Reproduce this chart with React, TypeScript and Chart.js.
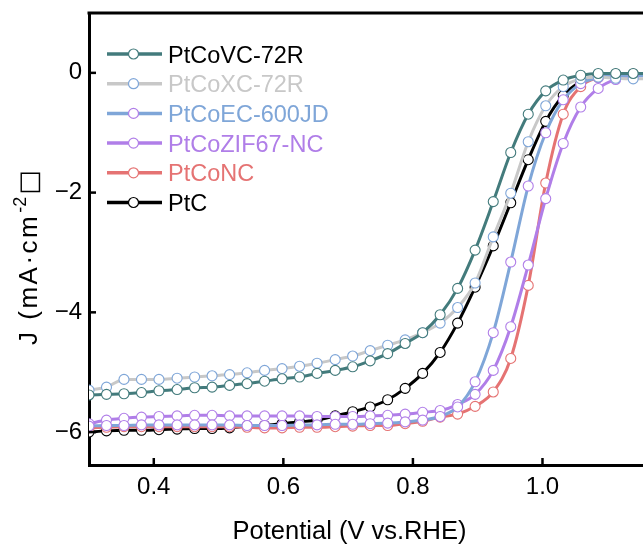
import React, { useEffect, useRef } from "react";
import { Chart, registerables } from "chart.js";

Chart.register(...registerables);

// Potential (V vs. RHE) of each sampled point
const potential = [
  0.300, 0.327, 0.354, 0.381, 0.408, 0.436, 0.463, 0.490, 0.517, 0.544, 0.571,
  0.598, 0.625, 0.652, 0.680, 0.707, 0.734, 0.761, 0.788, 0.815, 0.842, 0.869,
  0.896, 0.924, 0.951, 0.978, 1.005, 1.032, 1.059, 1.086, 1.113, 1.140, 1.168,
];

const seriesNames = ["PtCoVC-72R", "PtCoXC-72R", "PtCoEC-600JD", "PtCoZIF67-NC", "PtCoNC", "PtC"];

const ptCoVC72R = [
  -5.38, -5.37, -5.36, -5.34, -5.31, -5.29, -5.26, -5.25, -5.22, -5.19, -5.15,
  -5.11, -5.08, -5.02, -4.97, -4.91, -4.81, -4.69, -4.52, -4.34, -4.04, -3.60,
  -2.96, -2.15, -1.33, -0.69, -0.30, -0.12, -0.04, -0.01, -0.01, -0.01, -0.01,
];
const ptCoXC72R = [
  -5.30, -5.25, -5.12, -5.12, -5.12, -5.10, -5.08, -5.06, -5.04, -5.01, -4.97,
  -4.94, -4.90, -4.85, -4.79, -4.73, -4.64, -4.55, -4.46, -4.34, -4.18, -3.92,
  -3.51, -2.74, -2.01, -1.15, -0.55, -0.23, -0.10, -0.07, -0.09, -0.10, -0.10,
];
const ptCoEC600JD = [
  -5.90, -5.89, -5.89, -5.88, -5.88, -5.88, -5.88, -5.88, -5.88, -5.89, -5.89,
  -5.89, -5.88, -5.88, -5.87, -5.87, -5.86, -5.85, -5.83, -5.80, -5.74, -5.58,
  -5.16, -4.34, -3.16, -1.89, -1.00, -0.45, -0.18, -0.08, -0.05, -0.05, -0.05,
];
const ptCoZIF67NC = [
  -5.86, -5.80, -5.77, -5.75, -5.74, -5.73, -5.72, -5.72, -5.73, -5.73, -5.73,
  -5.73, -5.73, -5.74, -5.74, -5.74, -5.73, -5.72, -5.70, -5.67, -5.64, -5.54,
  -5.37, -4.97, -4.24, -3.21, -2.10, -1.18, -0.57, -0.26, -0.11, -0.05, -0.04,
];
const ptCoNC = [
  -5.93, -5.92, -5.91, -5.91, -5.91, -5.91, -5.91, -5.91, -5.91, -5.92, -5.93,
  -5.93, -5.92, -5.92, -5.91, -5.90, -5.89, -5.89, -5.86, -5.82, -5.75, -5.70,
  -5.57, -5.33, -4.77, -3.55, -1.84, -0.69, -0.23, -0.08, -0.03, -0.02, -0.02,
];
const ptC = [
  -6.00, -5.98, -5.97, -5.97, -5.96, -5.95, -5.94, -5.94, -5.93, -5.90, -5.89,
  -5.86, -5.83, -5.80, -5.73, -5.66, -5.58, -5.46, -5.27, -5.02, -4.67, -4.18,
  -3.58, -2.89, -2.17, -1.45, -0.81, -0.38, -0.15, -0.05, -0.02, -0.02, -0.02,
];

const seriesValues = [ptCoVC72R, ptCoXC72R, ptCoEC600JD, ptCoZIF67NC, ptCoNC, ptC];

const lineColors = ["#437b7c", "#c8c8c8", "#7fa6d8", "#b07ee8", "#e57373", "#000000"];
const markerColors = ["#437b7c", "#7fa6d8", "#b07ee8", "#b07ee8", "#e57373", "#000000"];
const legendTextColors = ["#000000", "#c8c8c8", "#7fa6d8", "#b07ee8", "#e57373", "#000000"];

const xTickValues = [0.4, 0.6, 0.8, 1.0];
const yTickValues = [0, -2, -4, -6];

const xTitle = "Potential (V vs.RHE)";
const yTitleMain = "J (mA·cm";
const yTitleSup = "-2";
const yTitleTail = "□";

const FONT = "'Liberation Sans', Arial, sans-serif";

const zeroPadding = (scale: any) => {
  scale.paddingTop = 0;
  scale.paddingBottom = 0;
  scale.paddingLeft = 0;
  scale.paddingRight = 0;
};

const decorPlugin = {
  id: "decor",
  afterDraw(chart: any) {
    const ctx = chart.ctx as CanvasRenderingContext2D;
    const area = chart.chartArea;
    const xs = chart.scales.x;
    const ys = chart.scales.y;
    ctx.save();
    // top border
    ctx.strokeStyle = "#000";
    ctx.lineWidth = 3;
    ctx.beginPath();
    ctx.moveTo(area.left - 1.5, area.top);
    ctx.lineTo(area.right + 2, area.top);
    ctx.stroke();
    // inward ticks
    ctx.lineWidth = 2.5;
    for (const v of xTickValues) {
      const px = xs.getPixelForValue(v);
      ctx.beginPath();
      ctx.moveTo(px, area.bottom);
      ctx.lineTo(px, area.bottom - 7);
      ctx.stroke();
    }
    for (const v of yTickValues) {
      const py = ys.getPixelForValue(v);
      ctx.beginPath();
      ctx.moveTo(area.left, py);
      ctx.lineTo(area.left + 7, py);
      ctx.stroke();
    }
    // legend
    const rowY0 = 54;
    const rowGap = 29.7;
    seriesNames.forEach((name, i) => {
      const y = rowY0 + i * rowGap;
      ctx.strokeStyle = lineColors[i];
      ctx.lineWidth = 3.5;
      ctx.beginPath();
      ctx.moveTo(107, y);
      ctx.lineTo(162, y);
      ctx.stroke();
      ctx.beginPath();
      ctx.arc(133.5, y, 5, 0, Math.PI * 2);
      ctx.fillStyle = "#fff";
      ctx.fill();
      ctx.strokeStyle = markerColors[i];
      ctx.lineWidth = 1.2;
      ctx.stroke();
      ctx.fillStyle = legendTextColors[i];
      ctx.font = `23.5px ${FONT}`;
      ctx.textAlign = "left";
      ctx.textBaseline = "alphabetic";
      ctx.fillText(name, 168, y + 8.5);
    });
    // x title
    ctx.fillStyle = "#000";
    ctx.font = `25.5px ${FONT}`;
    ctx.textAlign = "center";
    ctx.textBaseline = "alphabetic";
    ctx.fillText(xTitle, 349.5, 539);
    // y title
    ctx.translate(37, 345);
    ctx.rotate(-Math.PI / 2);
    ctx.textAlign = "left";
    ctx.font = `26px ${FONT}`;
    (ctx as any).letterSpacing = "2.5px";
    ctx.fillText(yTitleMain, 0, 0);
    const w1 = ctx.measureText(yTitleMain).width;
    (ctx as any).letterSpacing = "0px";
    ctx.font = `18px ${FONT}`;
    ctx.fillText(yTitleSup, w1 + 1, -11);
    const w2 = ctx.measureText(yTitleSup).width;
    ctx.font = `26px 'DejaVu Sans', ${FONT}`;
    ctx.fillText(yTitleTail, w1 + w2 + 3, 0);
    ctx.restore();
  },
};

export default function App() {
  const canvasRef = useRef<HTMLCanvasElement | null>(null);

  useEffect(() => {
    const canvas = canvasRef.current;
    if (!canvas) return;
    const datasets = seriesNames.map((name, i) => ({
      label: name,
      data: potential.map((x, k) => ({ x, y: seriesValues[i][k] })),
      borderColor: lineColors[i],
      backgroundColor: lineColors[i],
      borderWidth: 3,
      pointRadius: 5,
      pointBorderWidth: 1.1,
      pointBackgroundColor: "#ffffff",
      pointBorderColor: markerColors[i],
      cubicInterpolationMode: "monotone" as const,
      fill: false,
    }));
    const chart = new Chart(canvas, {
      type: "line",
      data: { datasets },
      options: {
        responsive: false,
        animation: false,
        events: [],
        layout: { padding: { top: 13, left: 0, right: 0, bottom: 0 } },
        plugins: { legend: { display: false }, tooltip: { enabled: false } },
        scales: {
          x: {
            type: "linear",
            min: 0.3,
            max: 1.155,
            afterBuildTicks: (scale: any) => {
              scale.ticks = xTickValues.map((v) => ({ value: v }));
            },
            afterFit: (scale: any) => {
              scale.height = 86;
              zeroPadding(scale);
            },
            grid: { display: false, tickLength: 0, drawTicks: false },
            border: { display: true, width: 3, color: "#000" },
            ticks: {
              color: "#000",
              padding: 8,
              font: { family: FONT, size: 24 },
              maxRotation: 0,
              callback: (v: any) => Number(v).toFixed(1),
            },
          },
          y: {
            type: "linear",
            min: -6.55,
            max: 1.0,
            afterBuildTicks: (scale: any) => {
              scale.ticks = yTickValues.map((v) => ({ value: v }));
            },
            afterFit: (scale: any) => {
              scale.width = 89;
              zeroPadding(scale);
            },
            grid: { display: false, tickLength: 0, drawTicks: false },
            border: { display: true, width: 3, color: "#000" },
            ticks: {
              color: "#000",
              padding: 7,
              font: { family: FONT, size: 24 },
              callback: (v: any) => String(v).replace("-", "\u2212"),
            },
          },
        },
      },
      plugins: [decorPlugin],
    });
    return () => chart.destroy();
  }, []);

  return (
    <div style={{ position: "absolute", left: 0, top: 0, width: 643, height: 551, overflow: "hidden", background: "#fff" }}>
      <canvas ref={canvasRef} width={649} height={551} style={{ display: "block" }} />
    </div>
  );
}
